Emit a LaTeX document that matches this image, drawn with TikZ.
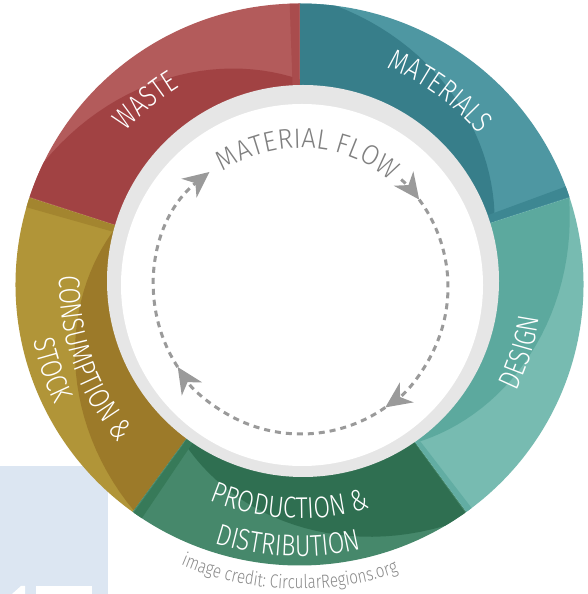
\documentclass[tikz,border=0pt]{standalone}
\usepackage{fontspec}
\usepackage{xcolor}
\usepackage{tikz}
\usetikzlibrary{arrows.meta}
\usetikzlibrary{decorations.text}

\IfFontExistsTF{Fira Sans Light}
  {\newfontfamily\ringfamily{Fira Sans Light}[FakeStretch=0.8]
   \newfontfamily\flowfamily{Fira Sans Light}[FakeStretch=0.92]}
  {\newfontfamily\ringfamily{Fira Sans}[FakeStretch=0.8]
   \newfontfamily\flowfamily{Fira Sans}[FakeStretch=0.88]}
\newcommand\ringfont{\ringfamily\fontsize{30pt}{30pt}\selectfont}
\newcommand\flowfont{\flowfamily\fontsize{28pt}{28pt}\selectfont}
\newcommand\creditfont{\ringfamily\fontsize{19pt}{19pt}\selectfont}

\definecolor{backblue}{HTML}{DCE6F2}
\definecolor{wastelight}{HTML}{B35B5B}
\definecolor{wastedark}{HTML}{A14243}
\definecolor{wastefold}{HTML}{A94C4D}
\definecolor{matlight}{HTML}{4E97A2}
\definecolor{matdark}{HTML}{377E8A}
\definecolor{matfold}{HTML}{3D8792}
\definecolor{designlight}{HTML}{77BBB1}
\definecolor{designdark}{HTML}{5CA99E}
\definecolor{designfold}{HTML}{62ADA3}
\definecolor{conslight}{HTML}{B19538}
\definecolor{consdark}{HTML}{9C7A29}
\definecolor{consfold}{HTML}{A3852F}
\definecolor{prodlight}{HTML}{46886B}
\definecolor{proddark}{HTML}{2F6F51}
\definecolor{prodfold}{HTML}{377A59}
\definecolor{ringgrey}{HTML}{E6E6E6}
\definecolor{flowgrey}{HTML}{9A9A9A}
\definecolor{textgrey}{HTML}{7F7F7F}
\definecolor{creditgrey}{HTML}{8A8A8A}

\begin{document}
\begin{tikzpicture}[x=1pt,y=1pt,
  ringtext/.style={decorate,decoration={text along path,text align=center,text color=white}},
  greytext/.style={decorate,decoration={text along path,text align=center,text color=#1}},
  flowarc/.style={draw=flowgrey,line width=3pt,dash pattern=on 6pt off 5pt},
  flowtip/.style={-{Stealth[length=26pt,width=24pt,inset=8pt]}}]

\fill[white] (0,0) rectangle (587,594);
\useasboundingbox (0,0) rectangle (587,594);

% Backdrop
\fill[backblue] (0,0) rectangle (108,128);
\fill[white] (12,0) -- (21,8) -- (25,8) -- (25,0) -- cycle;
\fill[white] (36,0) rectangle (92,8);

\coordinate (ringc) at (299.5,309.5);
\coordinate (greyc) at (303,313);
\coordinate (discc) at (302,309);
\coordinate (flowc) at (301,307);

% Ring segments
\begin{scope}[shift={(ringc)}]
  % Materials
  \begin{scope}
    \clip (0,0) -- (18:284 and 281) arc[start angle=18,end angle=90,x radius=284pt,y radius=281pt] -- cycle;
    \fill[matlight] (-300,-300) rectangle (300,300);
    \fill[matdark] (0,0) -- plot[domain=18:90,samples=30] (\x:{196+92*(0.1+0.92*(\x-18)/72)}) -- cycle;
    \fill[matfold] (0,0) -- (18:300) -- (20.2:300) -- cycle;
  \end{scope}
  % Waste
  \begin{scope}
    \clip (0,0) -- (90:284 and 281) arc[start angle=90,end angle=162,x radius=284pt,y radius=281pt] -- cycle;
    \fill[wastelight] (-300,-300) rectangle (300,300);
    \fill[wastedark] (0,0) -- plot[domain=90:162,samples=30] (\x:{196+92*(0.1+0.95*(\x-90)/72)}) -- cycle;
    \fill[wastefold] (0,0) -- (90:300) -- (92:300) -- cycle;
  \end{scope}
  % Consumption
  \begin{scope}
    \clip (0,0) -- (162:284 and 281) arc[start angle=162,end angle=234,x radius=284pt,y radius=281pt] -- cycle;
    \fill[conslight] (-300,-300) rectangle (300,300);
    \fill[consdark] (0,0) -- plot[domain=162:234,samples=30] (\x:{196+92*(-0.05+0.97*(\x-162)/72)}) -- cycle;
    \fill[consfold] (0,0) -- (162:300) -- (164.2:300) -- cycle;
  \end{scope}
  % Production
  \begin{scope}
    \clip (0,0) -- (234:284 and 281) arc[start angle=234,end angle=306,x radius=284pt,y radius=281pt] -- cycle;
    \fill[prodlight] (-300,-300) rectangle (300,300);
    \fill[proddark] (0,0) -- plot[domain=234:306,samples=30] (\x:{196+92*(0.0+1.0*(\x-234)/72)}) -- cycle;
    \fill[prodfold] (0,0) -- (234:300) -- (236:300) -- cycle;
  \end{scope}
  % Design
  \begin{scope}
    \clip (0,0) -- (306:284 and 281) arc[start angle=306,end angle=378,x radius=284pt,y radius=281pt] -- cycle;
    \fill[designlight] (-300,-300) rectangle (300,300);
    \fill[designdark] (0,0) -- plot[domain=306:378,samples=30] (\x:{196+92*(0.0+0.95*(\x-306)/72)}) -- cycle;
    \fill[designfold] (0,0) -- (306:300) -- (307.6:300) -- cycle;
  \end{scope}
\end{scope}

% Inner discs
\fill[ringgrey] (greyc) circle[radius=196pt];
\fill[white] (discc) circle[radius=181pt];

% Flow loop
\begin{scope}[shift={(flowc)}]
  \draw[flowarc,flowtip] (213:147) arc[start angle=213,end angle=128.5,radius=147pt];
  \draw[flowarc,flowtip] (47:147) arc[start angle=47,end angle=36.5,radius=147pt];
  \draw[flowarc,flowtip] (36.5:147) arc[start angle=36.5,end angle=-55,radius=147pt];
  \draw[flowarc,flowtip] (-55:147) arc[start angle=-55,end angle=-147,radius=147pt];
  \path[greytext=textgrey,decoration={text={|\flowfont|MATERIAL FLOW}}] (147:139) arc[start angle=147,end angle=27,radius=139pt];
\end{scope}

% Labels
\begin{scope}[shift={(ringc)}]
  \path[ringtext,decoration={text={|\ringfont|WASTE}}] (168:231) arc[start angle=168,end angle=92,radius=231pt];
  \path[ringtext,decoration={text={|\ringfont|MATERIALS}}] (92:234) arc[start angle=92,end angle=16,radius=234pt];
  \path[ringtext,decoration={text={|\ringfont|DESIGN}}] (-57:242) arc[start angle=-57,end angle=23,radius=242pt];
  \path[ringtext,decoration={text={|\ringfont|PRODUCTION {\&}}}] (227.5:234) arc[start angle=227.5,end angle=307.5,radius=234pt];
  \path[ringtext,decoration={text={|\ringfont|DISTRIBUTION}}] (227.5:272) arc[start angle=227.5,end angle=307.5,radius=272pt];
  \path[ringtext,decoration={text={|\ringfont|CONSUMPTION {\&}}}] (160:240) arc[start angle=160,end angle=239,radius=240pt];
  \path[ringtext,decoration={text={|\ringfont|STOCK}}] (160:272) arc[start angle=160,end angle=238,radius=272pt];
  \path[greytext=creditgrey,decoration={text={|\creditfont|image credit: CircularRegions.org}}] (228:304.5) arc[start angle=228,end angle=308,radius=304.5pt];
\end{scope}

\end{tikzpicture}
\end{document}
